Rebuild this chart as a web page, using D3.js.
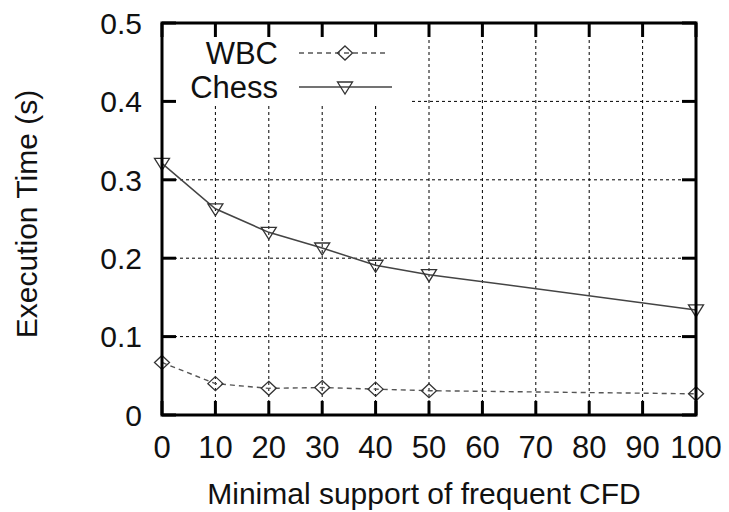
<!DOCTYPE html>
<html>
<head>
<meta charset="utf-8">
<script src="https://cdn.jsdelivr.net/npm/d3@7"></script>
<style>
  html, body { margin: 0; padding: 0; background: #fff; }
  text { font-family: "Liberation Sans", Arial, sans-serif; fill: #111; }
</style>
</head>
<body>
<div id="wrapper"></div>
<script>
const width = 729, height = 512;
const margin = {left: 162, right: 33, top: 23, bottom: 97};

// data
const supports = [0, 10, 20, 30, 40, 50, 100];
const wbcTimes = [0.067, 0.040, 0.034, 0.035, 0.033, 0.031, 0.027];
const chessTimes = [0.321, 0.263, 0.233, 0.213, 0.191, 0.179, 0.134];
const xTicks = [0, 10, 20, 30, 40, 50, 60, 70, 80, 90, 100];
const yTicks = [0, 0.1, 0.2, 0.3, 0.4, 0.5];
const seriesNames = ["WBC", "Chess"];

const svg = d3.select("#wrapper").append("svg")
    .attr("width", width)
    .attr("height", height);

const x = d3.scaleLinear().domain([0, 100]).range([margin.left, width - margin.right]);
const y = d3.scaleLinear().domain([0, 0.5]).range([height - margin.bottom, margin.top]);

const x0 = x.range()[0], x1 = x.range()[1];
const y0 = y.range()[0], y1 = y.range()[1];

// legend box keeps the grid out (like gnuplot)
const legendBox = {x2: 412, y2: 103};

const grid = svg.append("g")
    .attr("stroke", "#000")
    .attr("stroke-width", 1)
    .attr("stroke-dasharray", "3,3");

grid.selectAll("line.v")
    .data(xTicks.filter(d => d > 0 && d < 100))
    .enter().append("line")
    .attr("x1", d => x(d)).attr("x2", d => x(d))
    .attr("y1", y0)
    .attr("y2", d => x(d) < legendBox.x2 ? legendBox.y2 : y1);

grid.selectAll("line.h")
    .data(yTicks.filter(d => d > 0 && d < 0.5))
    .enter().append("line")
    .attr("y1", d => y(d)).attr("y2", d => y(d))
    .attr("x1", d => y(d) < legendBox.y2 ? legendBox.x2 : x0)
    .attr("x2", x1);

// series lines
const line = d3.line().x(d => x(d[0])).y(d => y(d[1]));

const wbcData = supports.map((s, i) => [s, wbcTimes[i]]);
const chessData = supports.map((s, i) => [s, chessTimes[i]]);

svg.append("path")
    .datum(wbcData)
    .attr("d", line)
    .attr("fill", "none")
    .attr("stroke", "#555")
    .attr("stroke-width", 1.4)
    .attr("stroke-dasharray", "5,4");

svg.append("path")
    .datum(chessData)
    .attr("d", line)
    .attr("fill", "none")
    .attr("stroke", "#444")
    .attr("stroke-width", 1.5);

function diamond(g, cx, cy) {
    g.append("path")
        .attr("d", `M${cx},${cy - 7}L${cx + 7.5},${cy}L${cx},${cy + 7}L${cx - 7.5},${cy}Z`)
        .attr("fill", "none")
        .attr("stroke", "#333")
        .attr("stroke-width", 1.3);
}

function triangle(g, cx, cy) {
    g.append("path")
        .attr("d", `M${cx - 7.5},${cy - 5}L${cx + 7.5},${cy - 5}L${cx},${cy + 7}Z`)
        .attr("fill", "none")
        .attr("stroke", "#333")
        .attr("stroke-width", 1.3);
}

const marks = svg.append("g");
wbcData.forEach(d => diamond(marks, x(d[0]), y(d[1])));
chessData.forEach(d => triangle(marks, x(d[0]), y(d[1])));

// frame and inward ticks on all sides
const axes = svg.append("g").attr("stroke", "#000").attr("stroke-width", 3);
const tickLen = 14;

axes.selectAll("line.bt")
    .data(xTicks)
    .enter().append("line")
    .attr("x1", d => x(d)).attr("x2", d => x(d))
    .attr("y1", y0).attr("y2", y0 - tickLen);

axes.selectAll("line.tt")
    .data(xTicks)
    .enter().append("line")
    .attr("x1", d => x(d)).attr("x2", d => x(d))
    .attr("y1", y1).attr("y2", y1 + tickLen);

axes.selectAll("line.lt")
    .data(yTicks)
    .enter().append("line")
    .attr("y1", d => y(d)).attr("y2", d => y(d))
    .attr("x1", x0).attr("x2", x0 + tickLen);

axes.selectAll("line.rt")
    .data(yTicks)
    .enter().append("line")
    .attr("y1", d => y(d)).attr("y2", d => y(d))
    .attr("x1", x1).attr("x2", x1 - tickLen);

svg.append("rect")
    .attr("x", x0).attr("y", y1)
    .attr("width", x1 - x0).attr("height", y0 - y1)
    .attr("fill", "none")
    .attr("stroke", "#000")
    .attr("stroke-width", 3);

// tick labels
svg.append("g").selectAll("text")
    .data(xTicks)
    .enter().append("text")
    .attr("x", d => x(d))
    .attr("y", 458)
    .attr("text-anchor", "middle")
    .style("font-size", "31px")
    .text(d => d);

svg.append("g").selectAll("text")
    .data(yTicks)
    .enter().append("text")
    .attr("x", 142)
    .attr("y", d => y(d))
    .attr("dy", "0.36em")
    .attr("text-anchor", "end")
    .style("font-size", "30px")
    .text(d => d === 0 ? "0" : d3.format(".1f")(d));

// axis titles
svg.append("text")
    .attr("x", 424)
    .attr("y", 504)
    .attr("text-anchor", "middle")
    .style("font-size", "30px")
    .text("Minimal support of frequent CFD");

svg.append("text")
    .attr("transform", "translate(37,214) rotate(-90)")
    .attr("text-anchor", "middle")
    .style("font-size", "30px")
    .text("Execution Time (s)");

// legend
const legend = svg.append("g");
const legendRows = [53, 87];

legend.selectAll("text")
    .data(seriesNames)
    .enter().append("text")
    .attr("x", 278)
    .attr("y", (d, i) => legendRows[i])
    .attr("dy", "0.36em")
    .attr("text-anchor", "end")
    .style("font-size", "31px")
    .text(d => d);

legend.append("line")
    .attr("x1", 299).attr("x2", 386)
    .attr("y1", legendRows[0]).attr("y2", legendRows[0])
    .attr("stroke", "#555").attr("stroke-width", 1.4)
    .attr("stroke-dasharray", "5,4");
diamond(legend, 345, legendRows[0]);

legend.append("line")
    .attr("x1", 299).attr("x2", 392)
    .attr("y1", legendRows[1]).attr("y2", legendRows[1])
    .attr("stroke", "#444").attr("stroke-width", 1.5);
triangle(legend, 345, legendRows[1]);
</script>
</body>
</html>
